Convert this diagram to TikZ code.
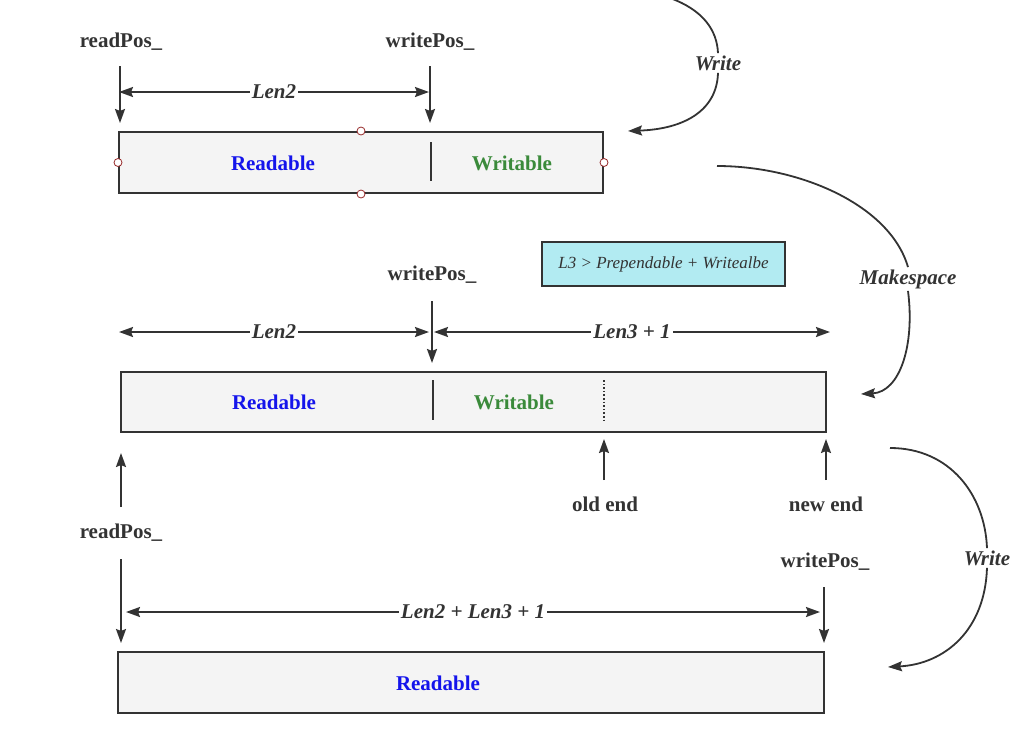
\documentclass[tikz,border=0pt]{standalone}
\usepackage{fontspec}
\setmainfont{Liberation Serif}
\usepackage{tikz}
\usetikzlibrary{arrows,arrows.meta,shapes,positioning}
\usepackage{xcolor}
\definecolor{bufgray}{RGB}{51,51,51}
\definecolor{buffill}{RGB}{244,244,244}
\definecolor{rdblue}{RGB}{20,20,235}
\definecolor{wrgreen}{RGB}{58,138,58}
\definecolor{notecyan}{RGB}{178,235,242}
\definecolor{pinred}{RGB}{150,40,40}
\tikzstyle{arrow} = [line width=1pt,->,>={Stealth[length=7pt,width=5pt,inset=1pt]},color=bufgray]
\tikzstyle{dimline} = [line width=1pt,<->,>={Stealth[length=7pt,width=5pt,inset=1pt]},color=bufgray]
\tikzstyle{flow} = [line width=0.9pt,>={Stealth[length=7pt,width=5pt,inset=1pt]},color=bufgray]
\tikzstyle{buffer} = [draw=bufgray, line width=1pt, fill=buffill, inner sep=0pt]
\tikzstyle{poslabel} = [text=bufgray, font=\fontsize{10.5}{12}\selectfont\bfseries]
\tikzstyle{dimlabel} = [fill=white, inner sep=1pt, text=bufgray, font=\fontsize{10.5}{12}\selectfont\bfseries\itshape]
\tikzstyle{partlabel} = [font=\fontsize{10.5}{12}\selectfont\bfseries]
\tikzstyle{notebox} = [draw=bufgray, line width=1pt, fill=notecyan, minimum width=121.5pt, minimum height=22pt, text=bufgray, font=\fontsize{8.5}{10}\selectfont\itshape]

\begin{document}
\begin{tikzpicture}[x=0.5pt, y=-0.5pt]
\useasboundingbox (0,0) rectangle (1030,745);

% Before write
\node[buffer, minimum width=242pt, minimum height=30.5pt] (buf1) at (361,162.5) {};
\draw[bufgray, thick] (431,142) -- (431,181);
\node[partlabel, text=rdblue] (rd1) at (273,163) {Readable};
\node[partlabel, text=wrgreen] (wr1) at (512,163) {Writable};
\foreach \a in {north,south,east,west}
  \draw[pinred, fill=white] (buf1.\a) circle (2pt);
\node[poslabel] (rp1) at (121,42) {readPos\_};
\node[poslabel] (wp1) at (430,42) {writePos\_};
\coordinate (rp1a) at (120,66);
\coordinate (wp1a) at (430,66);
\draw[arrow, shorten >=4pt] (rp1a) -- (rp1a |- buf1.north);
\draw[arrow, shorten >=4pt] (wp1a) -- (wp1a |- buf1.north);
\coordinate (d1l) at (119,92);
\coordinate (d1r) at (429,92);
\draw[dimline] (d1l) -- node[dimlabel] {Len2} (d1r);

% Write
\node[dimlabel] (w1) at (718,63) {Write};
\coordinate (w1in) at (670,-2);
\coordinate (w1out) at (628,131);
\draw[flow] (w1in) .. controls (703,10) and (717,30) .. (w1.north);
\draw[flow, ->] (w1.south) .. controls (717,110) and (685,129) .. (w1out);

% Makespace
\node[dimlabel] (mk) at (908,279) {Makespace};
\coordinate (mkin) at (717,166);
\coordinate (mkout) at (861,394);
\draw[flow] (mkin) .. controls (800,166) and (890,205) .. (mk.north);
\draw[flow, ->] (mk.south) .. controls (915,345) and (900,392) .. (mkout);

\node[notebox] (note) at (663.5,264) {L3 > Prependable + Writealbe};

% After makespace
\node[buffer, minimum width=352.5pt, minimum height=30pt] (buf2) at (473.5,402) {};
\draw[bufgray, thick] (433,380) -- (433,420);
\draw[bufgray, thick, densely dotted] (604,380) -- (604,422);
\node[partlabel, text=rdblue] (rd2) at (274,402) {Readable};
\node[partlabel, text=wrgreen] (wr2) at (514,402) {Writable};
\node[poslabel] (wp2) at (432,275) {writePos\_};
\coordinate (wp2a) at (432,301);
\draw[arrow, shorten >=4pt] (wp2a) -- (wp2a |- buf2.north);
\coordinate (d2l) at (119,332);
\coordinate (d2m) at (429,332);
\coordinate (d3m) at (434,332);
\coordinate (d3r) at (830,332);
\draw[dimline] (d2l) -- node[dimlabel] {Len2} (d2m);
\draw[dimline] (d3m) -- node[dimlabel] {Len3 + 1} (d3r);
\node[poslabel] (oe) at (605,504) {old end};
\node[poslabel] (ne) at (826,504) {new end};
\coordinate (oea) at (604,480);
\coordinate (nea) at (826,480);
\draw[arrow, shorten >=3pt] (oea) -- (oea |- buf2.south);
\draw[arrow, shorten >=3pt] (nea) -- (nea |- buf2.south);
\node[poslabel] (rp2) at (121,533) {readPos\_};
\coordinate (rp2a) at (121,507);
\draw[arrow, shorten >=10pt] (rp2a) -- (rp2a |- buf2.south);

% Write
\node[dimlabel] (w2) at (987,558) {Write};
\coordinate (w2in) at (890,448);
\coordinate (w2out) at (888,667);
\draw[flow] (w2in) .. controls (950,448) and (985,495) .. (w2.north);
\draw[flow, ->] (w2.south) .. controls (985,630) and (945,664) .. (w2out);

% After write
\node[buffer, minimum width=353pt, minimum height=30.5pt] (buf3) at (471,682.5) {};
\node[partlabel, text=rdblue] (rd3) at (438,683) {Readable};
\coordinate (rp3a) at (121,559);
\draw[arrow, shorten >=4pt] (rp3a) -- (rp3a |- buf3.north);
\node[poslabel] (wp3) at (825,562) {writePos\_};
\coordinate (wp3a) at (824,587);
\draw[arrow, shorten >=4pt] (wp3a) -- (wp3a |- buf3.north);
\coordinate (d4l) at (126,612);
\coordinate (d4r) at (820,612);
\draw[dimline] (d4l) -- node[dimlabel] {Len2 + Len3 + 1} (d4r);
\end{tikzpicture}
\end{document}
